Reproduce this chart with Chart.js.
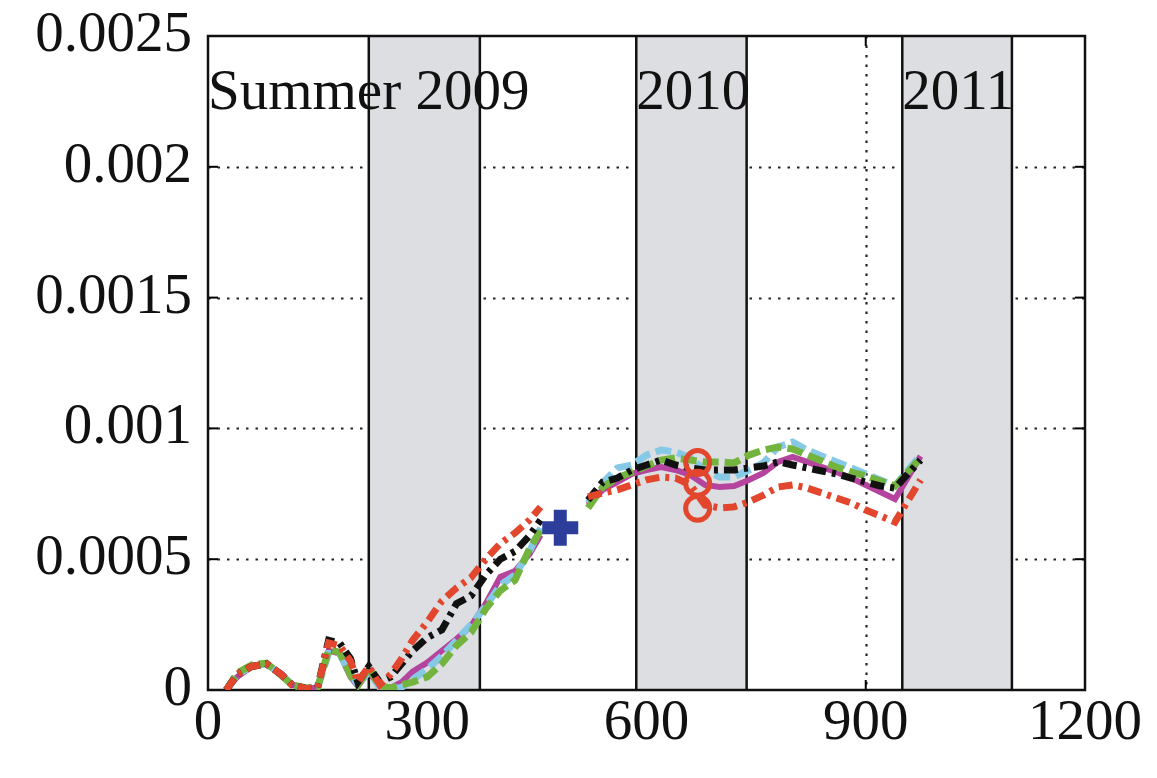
<!DOCTYPE html>
<html>
<head>
<meta charset="utf-8">
<script src="https://cdn.jsdelivr.net/npm/chart.js@4/dist/chart.umd.min.js"></script>
<style>
  html, body { margin: 0; padding: 0; background: #ffffff; }
  #wrap { width: 1157px; height: 778px; }
</style>
</head>
<body>
<div id="wrap"><canvas id="c" width="1157" height="778"></canvas></div>
<script>
// ---- data ----
const days = [25,40,60,80,100,115,135,150,165,180,195,205,220,235,250,265,280,300,320,340,360,380,400,420,440,455,
              475,
              520,540,560,580,600,620,640,660,680,700,720,740,760,780,800,820,840,860,880,900,920,940,975];

const blackVals = [0,0.00006,0.00009,0.0001,0.00006,0.00002,0.000005,0.00001,0.00019,0.00018,0.00012,0.00003,0.00009,0.00003,0.00005,0.0001,0.00015,0.0002,0.00023,0.00033,0.00036,0.00044,0.0005,0.00053,0.00059,0.00065,
  null,
  0.000726,0.000795,0.00081,0.000841,0.00086,0.000879,0.00086,0.000849,0.000841,0.000841,0.000841,0.000849,0.000856,0.000872,0.00086,0.000849,0.000837,0.000826,0.00081,0.000795,0.00078,0.000772,0.000879];

const redVals = [0,0.00006,0.00009,0.0001,0.00006,0.00002,0.000005,0.00001,0.00018,0.00017,0.00011,0.00003,0.00009,0.00002,0.00006,0.00012,0.00019,0.00026,0.00034,0.00039,0.00043,0.0005,0.00056,0.0006,0.00065,0.0007,
  null,
  0.000738,0.000753,0.000765,0.000784,0.000803,0.000814,0.00081,0.000784,0.000707,0.000696,0.0007,0.000719,0.000745,0.000776,0.000784,0.000772,0.000753,0.000734,0.000715,0.000688,0.000665,0.000642,0.000803];

const greenVals = [0,0.000065,0.000096,0.000103,0.000057,0.000019,0.000008,0.00001,0.000153,0.000145,0.000057,0.000019,0.000084,0.000015,0.000008,0.00002,0.00003,0.00005,0.0001,0.00017,0.00022,0.00031,0.00038,0.00042,0.00054,0.00061,
  null,
  0.000696,0.000776,0.00081,0.000833,0.000856,0.000879,0.000887,0.000879,0.000872,0.000872,0.000868,0.000898,0.000917,0.000929,0.000921,0.000898,0.000875,0.000852,0.000833,0.000818,0.000799,0.00078,0.000887];

const cyanVals = [0,0.00006,0.00009,0.0001,0.00006,0.00002,0.000005,0.00001,0.00014,0.00014,0.00006,0.00002,0.00007,0.00001,0.000005,0.00001,0.00004,0.00008,0.00013,0.00019,0.00025,0.00032,0.0004,0.00044,0.00053,0.00062,
  null,
  0.000715,0.000791,0.000849,0.00086,0.000898,0.000917,0.00091,0.000887,0.000841,0.000814,0.000814,0.000841,0.000868,0.000929,0.000948,0.000917,0.000894,0.000872,0.000849,0.000826,0.000803,0.00078,0.000898];

const magentaVals = [0,0.00005,0.00009,0.0001,0.00006,0.00002,0.000005,0.00001,0.00015,0.00014,0.00005,0.000015,0.00007,0.000015,0.000008,0.00003,0.00007,0.000105,0.00015,0.000195,0.000245,0.00033,0.000432,0.000455,0.00052,0.000592,
  null,
  0.000707,0.000765,0.000795,0.000826,0.000841,0.000852,0.000841,0.000822,0.000784,0.000776,0.00078,0.000803,0.00083,0.000872,0.000891,0.000872,0.000852,0.000833,0.00081,0.000784,0.000757,0.00073,0.000894];

const plusDay = [482];
const plusVals = [0.00062];
const circleDays = [670, 670, 670];
const circleVals = [0.00087, 0.00079, 0.000695];

const bandStarts = [220, 586, 950];
const bandEnds   = [372, 737, 1100];
const bandLabels = ['Summer 2009', '2010', '2011'];
const bandLabelX = [0, 586, 950];
const bandLabelY = 0.00222;

const xTicks = [0, 300, 600, 900, 1200];
const xTickLabels = ['0', '300', '600', '900', '1200'];
const yTicks = [0, 0.0005, 0.001, 0.0015, 0.002, 0.0025];
const yTickLabels = ['0', '0.0005', '0.001', '0.0015', '0.002', '0.0025'];

// ---- build ----
const pts = (xs, ys) => xs.map((x, i) => ({ x: x, y: ys[i] }));
const FONT = '"Liberation Serif", "Times New Roman", serif';

const bgPlugin = {
  id: 'bg',
  beforeDatasetsDraw(chart) {
    const { ctx, chartArea: a, scales: { x, y } } = chart;
    ctx.save();
    // dotted grid
    ctx.strokeStyle = '#222';
    ctx.lineWidth = 2.2;
    ctx.setLineDash([2.5, 7]);
    yTicks.forEach(v => {
      if (v === 0 || v === 0.0025) return;
      const py = Math.round(y.getPixelForValue(v)) + 0.5;
      ctx.beginPath(); ctx.moveTo(a.left, py); ctx.lineTo(a.right, py); ctx.stroke();
    });
    xTicks.forEach(v => {
      if (v === 0 || v === 1200) return;
      const px = Math.round(x.getPixelForValue(v)) + 0.5;
      ctx.beginPath(); ctx.moveTo(px, a.top); ctx.lineTo(px, a.bottom); ctx.stroke();
    });
    ctx.setLineDash([]);
    // inward ticks
    ctx.strokeStyle = '#000';
    ctx.lineWidth = 2;
    const tl = 10;
    xTicks.forEach(v => {
      const px = x.getPixelForValue(v);
      ctx.beginPath(); ctx.moveTo(px, a.bottom); ctx.lineTo(px, a.bottom - tl); ctx.stroke();
      ctx.beginPath(); ctx.moveTo(px, a.top); ctx.lineTo(px, a.top + tl); ctx.stroke();
    });
    yTicks.forEach(v => {
      const py = y.getPixelForValue(v);
      ctx.beginPath(); ctx.moveTo(a.left, py); ctx.lineTo(a.left + tl, py); ctx.stroke();
      ctx.beginPath(); ctx.moveTo(a.right, py); ctx.lineTo(a.right - tl, py); ctx.stroke();
    });
    // bands
    bandStarts.forEach((s, i) => {
      const x0 = x.getPixelForValue(s), x1 = x.getPixelForValue(bandEnds[i]);
      ctx.fillStyle = '#dcdee1';
      ctx.fillRect(x0, a.top, x1 - x0, a.bottom - a.top);
      ctx.strokeStyle = '#111';
      ctx.lineWidth = 2.5;
      ctx.beginPath(); ctx.moveTo(x0, a.top); ctx.lineTo(x0, a.bottom); ctx.stroke();
      ctx.beginPath(); ctx.moveTo(x1, a.top); ctx.lineTo(x1, a.bottom); ctx.stroke();
    });
    // band labels
    ctx.fillStyle = '#111';
    ctx.font = '57px ' + FONT;
    ctx.textBaseline = 'alphabetic';
    ctx.textAlign = 'left';
    bandLabels.forEach((t, i) => {
      ctx.fillText(t, x.getPixelForValue(bandLabelX[i]), y.getPixelForValue(bandLabelY));
    });
    // frame
    ctx.strokeStyle = '#111';
    ctx.lineWidth = 2.5;
    ctx.strokeRect(a.left, a.top, a.right - a.left, a.bottom - a.top);
    ctx.restore();
  }
};

const lineDs = (label, vals, color, dash, width) => ({
  label: label,
  data: pts(days, vals),
  borderColor: color,
  backgroundColor: color,
  borderWidth: width,
  borderDash: dash,
  pointRadius: 0,
  spanGaps: false,
  tension: 0,
  fill: false
});

new Chart(document.getElementById('c'), {
  type: 'line',
  data: {
    datasets: [
      {
        label: 'plus', data: pts(plusDay, plusVals), showLine: false,
        pointStyle: 'cross', pointRadius: 18, pointBorderWidth: 13,
        borderColor: '#2c3d9c', backgroundColor: '#2c3d9c'
      },
      {
        label: 'circles', data: pts(circleDays, circleVals), showLine: false,
        pointStyle: 'circle', pointRadius: 12, pointBorderWidth: 5,
        borderColor: '#e2462c', backgroundColor: 'rgba(255,255,255,0)'
      },
      lineDs('red', redVals, '#e2462c', [14, 6, 4, 6], 7),
      lineDs('black', blackVals, '#111111', [14, 6, 4, 6], 7),
      lineDs('green', greenVals, '#72b43e', [16, 6], 7),
      lineDs('cyan', cyanVals, '#86c9e6', [16, 6], 7),
      lineDs('magenta', magentaVals, '#b4449e', [], 6)
    ]
  },
  options: {
    responsive: false,
    animation: false,
    devicePixelRatio: 1,
    layout: { padding: { top: 36, right: 72, left: 0, bottom: 0 } },
    plugins: { legend: { display: false }, tooltip: { enabled: false } },
    scales: {
      x: {
        type: 'linear', min: 0, max: 1200,
        afterBuildTicks: s => { s.ticks = xTicks.map(v => ({ value: v })); },
        afterFit: s => { s.height = 88; s.paddingLeft = 0; s.paddingRight = 0; },
        grid: { display: false, drawTicks: false },
        border: { display: false },
        ticks: {
          padding: 6, color: '#111', maxRotation: 0, autoSkip: false,
          font: { family: FONT, size: 57, lineHeight: 1.0 },
          callback: (v) => { const i = xTicks.indexOf(v); return i >= 0 ? xTickLabels[i] : ''; }
        }
      },
      y: {
        type: 'linear', min: 0, max: 0.0025,
        afterBuildTicks: s => { s.ticks = yTicks.map(v => ({ value: v })); },
        afterFit: s => { s.width = 208; s.paddingTop = 0; s.paddingBottom = 0; },
        grid: { display: false, drawTicks: false },
        border: { display: false },
        ticks: {
          padding: 16, color: '#111', autoSkip: false,
          font: { family: FONT, size: 57, lineHeight: 1.0 },
          callback: (v) => { const i = yTicks.findIndex(t => Math.abs(t - v) < 1e-9); return i >= 0 ? yTickLabels[i] : ''; }
        }
      }
    }
  },
  plugins: [bgPlugin]
});
</script>
</body>
</html>
